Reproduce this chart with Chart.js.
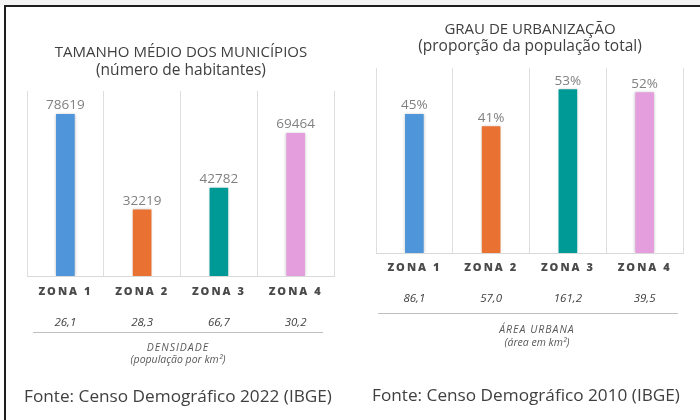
<!DOCTYPE html>
<html>
<head>
<meta charset="utf-8">
<script src="https://cdn.jsdelivr.net/npm/chart.js@4/dist/chart.umd.min.js"></script>
<style>
  html, body { margin: 0; padding: 0; background: #fff; }
  body { width: 700px; height: 420px; position: relative; overflow: hidden; font-family: 'Open Sans', sans-serif; color: #404040; }
  .strip { position: absolute; left: 0; top: 0; width: 700px; height: 5px; background: #f4f4f4; }
  .top-line { position: absolute; left: 4px; top: 5px; width: 696px; height: 2px; background: #1e1e1e; }
  .left-line { position: absolute; left: 4px; top: 5px; width: 2px; height: 415px; background: #1e1e1e; }
  canvas { position: absolute; top: 0; }
  .txt { position: absolute; width: 340px; text-align: center; white-space: nowrap; line-height: 1; }
  .title { font-size: 15px; }
  .sub { font-size: 15.5px; }
  .cap { font-size: 10.5px; font-style: italic; color: #595959; }
  .caps { letter-spacing: 1px; }
  .src { font-size: 17.2px; }
</style>
</head>
<body>
<div class="strip"></div>
<div class="top-line"></div>
<div class="left-line"></div>

<canvas id="chartHab" width="350" height="420" style="left:0"></canvas>
<canvas id="chartUrb" width="350" height="420" style="left:350px"></canvas>

<div class="txt title" style="left:11px;top:44px">TAMANHO MÉDIO DOS MUNICÍPIOS</div>
<div class="txt sub" style="left:11px;top:62px">(número de habitantes)</div>
<div class="txt cap caps" style="left:8px;top:342px">DENSIDADE</div>
<div class="txt cap" style="left:8px;top:354px">(população por km²)</div>
<div class="txt src" style="left:8px;top:387px">Fonte: Censo Demográfico 2022 (IBGE)</div>

<div class="txt title" style="left:360px;top:21px">GRAU DE URBANIZAÇÃO</div>
<div class="txt sub" style="left:360px;top:38px">(proporção da população total)</div>
<div class="txt cap caps" style="left:367px;top:324px">ÁREA URBANA</div>
<div class="txt cap" style="left:367px;top:337px">(área em km²)</div>
<div class="txt src" style="left:356px;top:386px">Fonte: Censo Demográfico 2010 (IBGE)</div>

<script>
var ZONES = ['ZONA 1', 'ZONA 2', 'ZONA 3', 'ZONA 4'];
var COLORS = ['#4E95D9', '#E97132', '#009A96', '#E59EDD'];

var HABITANTES = [78619, 32219, 42782, 69464];
var DENSIDADE = ['26,1', '28,3', '66,7', '30,2'];
var HAB_MAX = 90000;

var URBANIZACAO = [45, 41, 53, 52];
var AREA_URBANA = ['86,1', '57,0', '161,2', '39,5'];
var URB_MAX = 60;

// rótulos sobre as barras, fileira de valores extra e linha separadora
var extras = {
  id: 'extras',
  beforeDraw: function (chart) {
    chart.ctx.letterSpacing = '2px';
  },
  beforeDatasetsDraw: function (chart) {
    var ctx = chart.ctx;
    ctx.letterSpacing = '0px';
    ctx.save();
    ctx.shadowColor = 'rgba(0,0,0,0.28)';
    ctx.shadowBlur = 3;
  },
  afterDatasetsDraw: function (chart, args, opts) {
    var ctx = chart.ctx;
    ctx.restore();
    ctx.letterSpacing = '0px';
    var meta = chart.getDatasetMeta(0);
    var data = chart.data.datasets[0].data;
    ctx.save();
    ctx.font = '13.5px "Open Sans", sans-serif';
    ctx.fillStyle = '#808080';
    ctx.textAlign = 'center';
    ctx.textBaseline = 'alphabetic';
    meta.data.forEach(function (bar, i) {
      ctx.fillText(opts.format(data[i]), bar.x, bar.y - 5);
    });
    ctx.restore();
  },
  afterDraw: function (chart, args, opts) {
    var ctx = chart.ctx;
    var area = chart.chartArea;
    var x = chart.scales.x;
    ctx.save();
    ctx.letterSpacing = '0px';
    ctx.font = 'italic 11.5px "Open Sans", sans-serif';
    ctx.fillStyle = '#404040';
    ctx.textAlign = 'center';
    ctx.textBaseline = 'middle';
    opts.row.forEach(function (v, i) {
      ctx.fillText(v, x.getPixelForValue(i), area.bottom + opts.rowOffset);
    });
    ctx.strokeStyle = '#bfbfbf';
    ctx.lineWidth = 1;
    ctx.beginPath();
    ctx.moveTo(area.left + opts.lineLeft, area.bottom + opts.lineOffset + 0.5);
    ctx.lineTo(area.right - opts.lineRight, area.bottom + opts.lineOffset + 0.5);
    ctx.stroke();
    ctx.restore();
  }
};

function makeChart(id, values, max, pad, axisHeight, tickPad, extraOpts) {
  return new Chart(document.getElementById(id), {
    type: 'bar',
    data: {
      labels: ZONES,
      datasets: [{ data: values, backgroundColor: COLORS, barThickness: 18 }]
    },
    options: {
      responsive: false,
      animation: false,
      layout: { padding: pad },
      plugins: { legend: { display: false }, tooltip: { enabled: false }, extras: extraOpts },
      scales: {
        x: {
          grid: { color: '#dedede', drawTicks: false, offset: true },
          border: { color: '#d9d9d9' },
          ticks: { color: '#4a4a4a', font: { family: 'Open Sans', size: 11, weight: 800 }, padding: tickPad },
          afterFit: function (scale) { scale.height = axisHeight; }
        },
        y: { display: false, min: 0, max: max }
      }
    },
    plugins: [extras]
  });
}

makeChart('chartHab', HABITANTES, HAB_MAX, { left: 27, right: 16, top: 91, bottom: 0 }, 144, 9, {
  format: function (v) { return String(v); },
  row: DENSIDADE, rowOffset: 47, lineOffset: 56, lineLeft: 6, lineRight: 11
});

makeChart('chartUrb', URBANIZACAO, URB_MAX, { left: 26, right: 17, top: 68, bottom: 0 }, 167, 8, {
  format: function (v) { return v + '%'; },
  row: AREA_URBANA, rowOffset: 46, lineOffset: 60, lineLeft: 2, lineRight: 5
});
</script>
</body>
</html>
